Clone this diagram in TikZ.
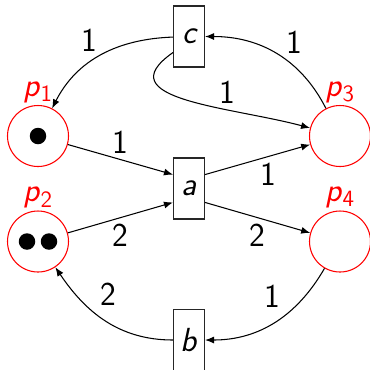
\documentclass[tikz,border=0pt]{standalone}
\usetikzlibrary{arrows.meta, positioning, calc}
\tikzset{
  every picture/.style={font=\sffamily\fontsize{19}{22}\selectfont, line width=0.6pt},
  place/.style={circle, draw=red, minimum size=1.22cm, inner sep=0pt},
  trans/.style={draw=black!85, fill=white, minimum width=0.62cm, minimum height=1.22cm, inner sep=0pt, font=\sffamily\slshape\fontsize{19}{22}\selectfont},
  tokdot/.style={circle, fill=black, minimum size=0.33cm, inner sep=0pt},
  arc/.style={-{Latex[length=1.8mm, width=1.4mm]}, draw=black},
  plab/.style={text=red, font=\sffamily\fontsize{19}{22}\selectfont, inner sep=1pt},
  wt/.style={font=\sffamily\fontsize{19}{22}\selectfont},
}
\newcommand{\pname}[1]{\textsl{p}\textsubscript{#1}}

\begin{document}
\begin{tikzpicture}
  \useasboundingbox (0,0) rectangle (7.4,-7.38);
  % places
  \node[place, label={[plab]above:\pname{1}}] (p1) at (0.76,-2.72) {};
  \node[place, label={[plab]above:\pname{2}}] (p2) at (0.76,-4.83) {};
  \node[place, label={[plab]above:\pname{3}}] (p3) at (6.8,-2.72) {};
  \node[place, label={[plab]above:\pname{4}}] (p4) at (6.8,-4.83) {};
  % tokens
  \node[tokdot] (t1) at (p1) {};
  \node[tokdot] (t2l) at ($(p2)+(-0.22,0)$) {};
  \node[tokdot] (t2r) at ($(p2)+(0.22,0)$) {};
  % transitions
  \node[trans] (c) at (3.78,-0.73) {c};
  \node[trans] (a) at (3.78,-3.77) {a};
  \node[trans] (b) at (3.78,-6.8) {b};
  % arcs
  \draw[arc] (c) to[out=182, in=63] node[wt, pos=.5, above left, inner sep=2pt] (w1) {1} (p1);
  \draw[arc] (p3) to[out=117, in=0] node[wt, pos=.45, above right, inner sep=2pt] (w2) {1} (c);
  \draw[arc] (c.225) to[out=215, in=165, looseness=1.35] node[wt, pos=.68, above] (w3) {1} (p3);
  \draw[arc] (p1) -- node[wt, above] (w4) {1} (a.139);
  \draw[arc] (a.41) -- node[wt, pos=.6, below] (w5) {1} (p3);
  \draw[arc] (p2) -- node[wt, below] (w6) {2} (a.221);
  \draw[arc] (a.319) -- node[wt, below] (w7) {2} (p4);
  \draw[arc] (p4) to[out=240, in=0] node[wt, pos=.4, above left] (w8) {1} (b);
  \draw[arc] (b) to[out=180, in=304] node[wt, pos=.6, above right] (w9) {2} (p2);
\end{tikzpicture}
\end{document}
